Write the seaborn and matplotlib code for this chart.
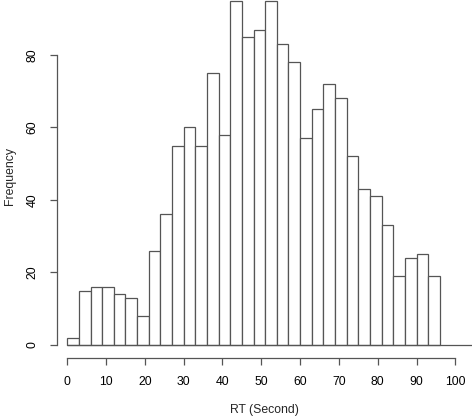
import numpy as np
import pandas as pd
import matplotlib
matplotlib.use("Agg")
import matplotlib.pyplot as plt
import seaborn as sns

# contagens por classe (largura 3 s, de 0 a 96)
bin_edges = list(range(0, 99, 3))
counts = [2, 15, 16, 16, 14, 13, 8, 26, 36, 55, 60, 55, 75, 58, 95, 85,
          87, 95, 83, 78, 57, 65, 72, 68, 52, 43, 41, 33, 19, 24, 25, 19]
x_ticks = list(range(0, 101, 10))
y_ticks = [0, 20, 40, 60, 80]

centros = [(a + b) / 2 for a, b in zip(bin_edges[:-1], bin_edges[1:])]
df = pd.DataFrame({"RT": centros, "n": counts})

sns.set_style("white")
plt.rcParams["font.family"] = ["Liberation Sans", "DejaVu Sans"]

fig = plt.figure(figsize=(4.72, 4.17), dpi=100)
ax = fig.add_axes([57 / 472, 1 - 358 / 417, 1 - 57 / 472, 358 / 417])

cor = "#555555"
sns.histplot(data=df, x="RT", weights="n", bins=bin_edges, ax=ax,
             color="white", edgecolor=cor, linewidth=0.9, alpha=1)
ax.plot([0, 110], [0, 0], color=cor, linewidth=0.9)

ax.set_xlim(-2.65, 104.3)
ax.set_ylim(-3.59, 95.17)

for lado in ["top", "right"]:
    ax.spines[lado].set_visible(False)
ax.spines["left"].set_bounds(0, 80)
ax.spines["bottom"].set_bounds(0, 100)
for lado in ["left", "bottom"]:
    ax.spines[lado].set_color(cor)
    ax.spines[lado].set_linewidth(0.9)

fs = 8.8
ax.set_xticks(x_ticks)
ax.set_yticks(y_ticks)
ax.tick_params(axis="both", length=5, width=0.9, color=cor, labelsize=fs,
               labelcolor="black", direction="out", bottom=True, left=True)
ax.tick_params(axis="x", pad=8)
ax.tick_params(axis="y", pad=8.5)
for t in ax.get_yticklabels():
    t.set_rotation(90)
    t.set_va("center")

ax.set_xlabel("")
ax.set_ylabel("")
fig.text(264 / 472, 1 - 410 / 417, "RT (Second)", ha="center", va="center", fontsize=fs)
fig.text(10 / 472, 1 - 176 / 417, "Frequency", ha="center", va="center",
         rotation=90, fontsize=fs)

fig.savefig("out.png", dpi=100)
